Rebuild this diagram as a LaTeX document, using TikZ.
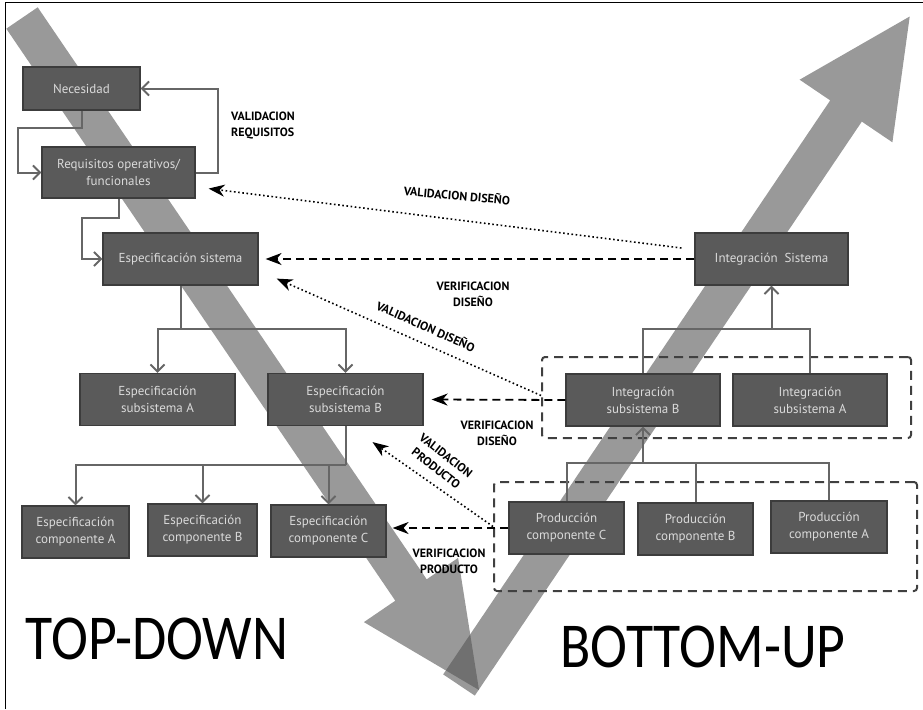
\documentclass[tikz,border=0pt]{standalone}
\usepackage{fontspec}
\setmainfont{PT Sans}
\newfontfamily\titfont{Carlito}
\usetikzlibrary{arrows.meta}

\definecolor{cajafill}{HTML}{5A5A5A}
\definecolor{cajaborde}{HTML}{3C3C3C}
\definecolor{cajatexto}{HTML}{DADADA}
\definecolor{lineagris}{HTML}{666666}
\definecolor{flechagris}{HTML}{555555}
\definecolor{grupoborde}{HTML}{404040}

\tikzstyle{caja}=[draw=cajaborde, fill=cajafill, text=cajatexto, line width=1.2pt,
  align=center, inner sep=0pt, minimum height=52pt, font=\fontsize{13}{17}\selectfont]
\tikzstyle{linea}=[draw=lineagris, line width=2pt, -{Straight Barb[length=7pt,width=14pt]}]
\tikzstyle{verif}=[line width=1.8pt, dash pattern=on 8pt off 5pt, -{Stealth[length=16pt,width=12pt,inset=5pt]}]
\tikzstyle{valid}=[line width=1.6pt, dash pattern=on 1.6pt off 2.6pt, -{Stealth[length=16pt,width=12pt,inset=5pt]}]
\tikzstyle{etiqueta}=[font=\bfseries\fontsize{12}{16}\selectfont, align=center, inner sep=0pt]
\tikzstyle{grupo}=[draw=grupoborde, line width=2pt, dash pattern=on 9pt off 6pt, rounded corners=3pt]
\tikzstyle{flecha}=[fill=flechagris, opacity=0.6]
\tikzstyle{titulo}=[font=\titfont\fontsize{64}{64}\selectfont, xscale=0.87, inner sep=0pt]

\begin{document}
\begin{tikzpicture}[x=1pt,y=-1pt]
        \useasboundingbox (0,0) rectangle (923,709);
        \draw[line width=1pt] (5,709) -- (5,3) -- (923,3);

        % big arrows
        \fill[flecha] (37.7,7.3) -- (426.7,579.3) -- (458.1,557.9) -- (479,690)
          -- (363.9,622.1) -- (395.3,600.7) -- (6.3,28.7) -- cycle;   % TOP-DOWN
        \fill[flecha] (443.2,674.4) -- (830.2,100.4) -- (799.6,79.7) -- (909.7,16.5)
          -- (892.4,142.3) -- (861.8,121.6) -- (474.8,695.6) -- cycle; % BOTTOM-UP

        % top-down boxes
        \node[caja, minimum width=117pt, minimum height=43pt] (nec) at (81.5,88.5) {Necesidad};
        \node[caja, minimum width=153pt, minimum height=51pt] (req) at (118.5,172.5) {Requisitos operativos/\\funcionales};
        \node[caja, minimum width=155pt] (esis) at (180.5,259) {Especificación sistema};
        \node[caja, minimum width=155pt] (esubA) at (157.5,399.5) {Especificación\\subsistema A};
        \node[caja, minimum width=155pt] (esubB) at (345.5,399.5) {Especificación\\subsistema B};
        \node[caja, minimum width=107pt] (ecA) at (75.5,532) {Especificación\\componente A};
        \node[caja, minimum width=109pt] (ecB) at (202.5,530) {Especificación\\componente B};
        \node[caja, minimum width=115pt] (ecC) at (328.5,531) {Especificación\\componente C};

        % bottom-up boxes
        \node[caja, minimum width=153pt] (isis) at (771.5,259) {Integración~ Sistema};
        \node[caja, minimum width=154pt] (isubB) at (643,400) {Integración\\subsistema B};
        \node[caja, minimum width=154pt] (isubA) at (810,400) {Integración\\subsistema A};
        \node[caja, minimum width=115pt] (pC) at (566.5,528) {Producción\\componente C};
        \node[caja, minimum width=115pt] (pB) at (695.5,529) {Producción\\componente B};
        \node[caja, minimum width=116pt] (pA) at (829,527) {Producción\\componente A};

        % dashed groups
        \node[grupo, minimum width=369pt, minimum height=81pt] (gint) at (726.5,397.5) {};
        \node[grupo, minimum width=423pt, minimum height=109pt] (gprod) at (705.5,536.5) {};

        % tree connectors
        \coordinate (b1) at (180.5,329);
        \coordinate (b2) at (345.5,465);
        \coordinate (b3) at (771.5,329);
        \coordinate (b4) at (643,463);
        \draw[linea] (nec.south) |- (18,128) |- (req.west);
        \draw[linea] (req.east) -| (218,88.5) -- (nec.east);
        \draw[linea] (req.south) |- (82,218) |- (esis.west);
        \draw[linea, -] (esis.south) -- (b1);
        \draw[linea] (b1) -| (esubA.north);
        \draw[linea] (b1) -| (esubB.north);
        \draw[linea, -] (esubB.south) -- (b2);
        \draw[linea] (b2) -| (ecA.north);
        \draw[linea] (b2) -| (ecB.north);
        \draw[linea] (b2) -| (ecC.north);
        \draw[linea, -] (isubB.north) |- (b3) -| (isubA.north);
        \draw[linea] (b3) -- (isis.south);
        \draw[linea, -] (pC.north) |- (b4) -| (pA.north);
        \draw[linea, -] (pB.north) -- (pB.north |- b4);
        \draw[linea] (b4) -- (isubB.south);

        % validation / verification
        \draw[valid] ([xshift=-13pt,yshift=11pt]isis.west) -- ([xshift=13pt,yshift=10pt]req.south east);
        \draw[verif] (isis.west) -- ([xshift=7pt]esis.east);
        \draw[valid] ([yshift=2pt]gint.west) -- ([xshift=18pt,yshift=7pt]esis.south east);
        \draw[verif] (isubB.west) -- ([xshift=8pt]esubB.east);
        \draw[valid] ([yshift=10pt]gprod.west) -- ([xshift=27pt,yshift=-16pt]esubB.south);
        \draw[verif] (pC.west) -- ([xshift=6pt,yshift=3pt]ecC.east);

        % labels
        \node[etiqueta, align=left, anchor=west] (lvr) at (231,126) {VALIDACION\\REQUISITOS};
        \node[etiqueta, rotate=-5] (lvd1) at (457,195) {VALIDACION DISEÑO};
        \node[etiqueta] (lfd1) at (473,294) {VERIFICACION\\DISEÑO};
        \node[etiqueta, rotate=-24] (lvd2) at (426,326) {VALIDACION DISEÑO};
        \node[etiqueta] (lfd2) at (497,433) {VERIFICACION\\DISEÑO};
        \node[etiqueta, rotate=-38] (lvp) at (441,462) {VALIDACION\\PRODUCTO};
        \node[etiqueta] (lfp) at (449,561) {VERIFICACION\\PRODUCTO};

        \node[titulo] (td) at (157,639) {TOP-DOWN};
        \node[titulo] (bu) at (703,647) {BOTTOM-UP};
\end{tikzpicture}
\end{document}
